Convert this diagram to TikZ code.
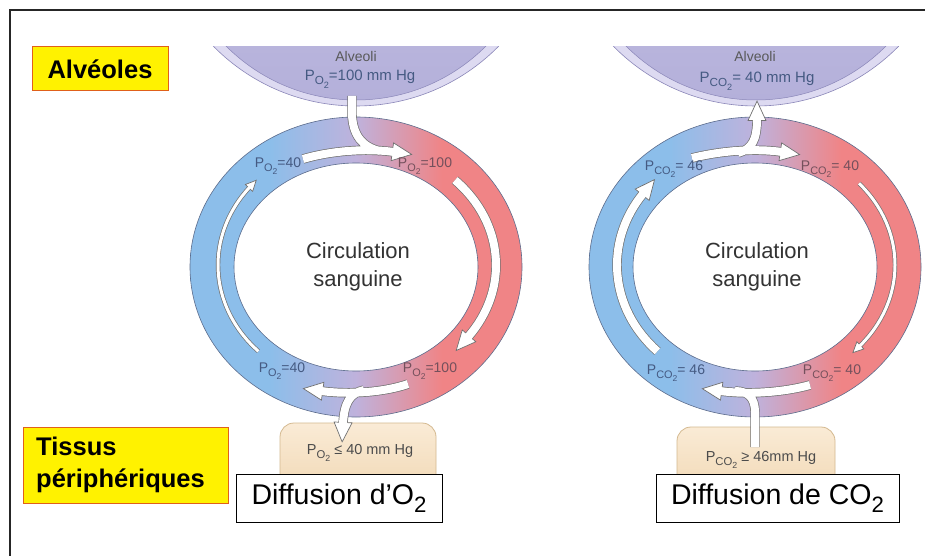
\documentclass[tikz,border=0pt]{standalone}
\usepackage{fontspec}
\usepackage{graphicx}
\setmainfont{Liberation Sans}
\usetikzlibrary{decorations.markings,calc}
\newcommand\mysub[1]{\raisebox{-0.3em}{\scalebox{0.78}{#1}}}
\definecolor{rblue}{HTML}{8CBEEA}
\definecolor{rmid}{HTML}{BFB2DC}
\definecolor{rred}{HTML}{F08486}
\definecolor{ringline}{HTML}{5C6C8C}
\definecolor{alvrim}{HTML}{DDDAF1}
\definecolor{alvtop}{HTML}{CFCBEA}
\definecolor{alvbot}{HTML}{B4B0DA}
\definecolor{alvline}{HTML}{8A86B8}
\definecolor{tisstop}{HTML}{FAEBD6}
\definecolor{tissbot}{HTML}{F1D8B4}
\definecolor{tissline}{HTML}{D4B990}
\definecolor{ybord}{HTML}{E0601A}
\definecolor{lblb}{HTML}{455A82}
\definecolor{lblr}{HTML}{74505C}
\definecolor{agray}{HTML}{707070}
\pgfdeclarehorizontalshading{ringshade}{100bp}{color(0bp)=(rblue); color(25bp)=(rblue); color(37bp)=(rblue); color(50bp)=(rmid); color(63bp)=(rred); color(75bp)=(rred); color(100bp)=(rred)}
\begin{document}
\begin{tikzpicture}[x=1pt,y=-1pt,
  ao/.style={draw=agray, line width=#1},
  ai/.style={draw=white, line width=#1},
  headat/.style n args={2}{postaction=decorate, decoration={markings, mark=at position 0.998 with {\filldraw[fill=white, draw=agray, line width=0.7pt, line join=miter] (-1.5pt,#1) -- (#2,0pt) -- (-1.5pt,-#1) -- cycle;}}},
  ybox/.style={draw=ybord, line width=1pt, fill=yellow, font=\fontsize{25.5}{30}\selectfont\bfseries},
  dbox/.style={draw=black, line width=1pt, fill=white, font=\fontsize{28.5}{32}\selectfont},
  lbl/.style={text=lblb, font=\fontsize{14}{16}\selectfont, inner sep=0},
  lblR/.style={lbl, text=lblr},
  ctr/.style={text=black!80, font=\fontsize{22}{28}\selectfont, align=center, inner sep=0},
  tiss/.style={draw=tissline, line width=0.8pt, top color=tisstop, bottom color=tissbot, rounded corners=14pt}
]
\useasboundingbox (0,0) rectangle (925,556);
\fill[white] (0,0) rectangle (925,556);
\draw[line width=1.4pt, black!85] (10,556) -- (10,10) -- (925,10);

% ---------- tissue boxes ----------
\path[tiss] (280,423) rectangle (436,495);
\path[tiss] (677,427) rectangle (835,495);

% ---------- alveoli ----------
\foreach \cx in {356,756}{
\begin{scope}
\clip (\cx-170,47) rectangle (\cx+170,125);
\filldraw[fill=alvrim, draw=alvline, line width=0.6pt] (\cx,-94) circle[radius=200];
\shade[top color=alvtop, bottom color=alvbot] (\cx,-83.5) circle[radius=183.5];
\draw[alvline, line width=0.5pt] (\cx,-83.5) circle[radius=183.5];
\end{scope}
}

% ---------- rings ----------
\foreach \cx in {356,755}{
\shade[even odd rule, shading=ringshade]
  (\cx,267) ellipse[x radius=166, y radius=150] (\cx,267) ellipse[x radius=122, y radius=104];
\draw[ringline, line width=0.6pt] (\cx,267) ellipse[x radius=166, y radius=150];
\draw[ringline, line width=0.6pt] (\cx,267) ellipse[x radius=122, y radius=104];
}

% ---------- arrows left diagram ----------
\coordinate (lc) at (356,265);
% top group
\draw[ao=9.4pt] (303,159) .. controls (330,151) and (365,148) .. (394,152)
                (352,96) -- (352,115) .. controls (353,135) and (362,147) .. (380,151);
\path[headat={9pt}{18pt}] (303,159) .. controls (330,151) and (365,148) .. (394,152);
\draw[ai=8pt] (303,159) .. controls (330,151) and (365,148) .. (394,152)
              (352,96) -- (352,115) .. controls (353,135) and (362,147) .. (380,151);
% right arc
\draw[ao=9.4pt] ($(lc)+(-45:140 and 120)$) arc[start angle=-45, end angle=37, x radius=140, y radius=120];
\path[headat={9pt}{18pt}] ($(lc)+(-45:140 and 120)$) arc[start angle=-45, end angle=37, x radius=140, y radius=120];
\draw[ai=8pt] ($(lc)+(-45:140 and 120)$) arc[start angle=-45, end angle=37, x radius=140, y radius=120];
% bottom group
\draw[ao=9.4pt] (408,384) .. controls (385,392) and (350,395) .. (321,391)
                (364,390) .. controls (350,393) and (344,403) .. (343,424);
\path[headat={9pt}{18pt}] (408,384) .. controls (385,392) and (350,395) .. (321,391);
\path[headat={9pt}{18pt}] (364,390) .. controls (350,393) and (344,403) .. (343,424);
\draw[ai=8pt] (408,384) .. controls (385,392) and (350,395) .. (321,391)
              (364,390) .. controls (350,393) and (344,403) .. (343,424);
% left thin arc
\draw[ao=4.4pt] ($(lc)+(135:138 and 122)$) arc[start angle=135, end angle=220, x radius=138, y radius=122];
\path[headat={5pt}{9pt}] ($(lc)+(135:138 and 122)$) arc[start angle=135, end angle=220, x radius=138, y radius=122];
\draw[ai=3pt] ($(lc)+(135:138 and 122)$) arc[start angle=135, end angle=220, x radius=138, y radius=122];

% ---------- arrows right diagram ----------
\coordinate (rc) at (755,265);
% top group
\draw[ao=9.4pt] (692,158) .. controls (720,151) and (755,148) .. (782,152)
                (738,153) .. controls (752,149) and (757,140) .. (757,119);
\path[headat={9pt}{18pt}] (692,158) .. controls (720,151) and (755,148) .. (782,152);
\path[headat={9pt}{18pt}] (738,153) .. controls (752,149) and (757,140) .. (757,119);
\draw[ai=8pt] (692,158) .. controls (720,151) and (755,148) .. (782,152)
              (738,153) .. controls (752,149) and (757,140) .. (757,119);
% right thin arc
\draw[ao=4.4pt] ($(rc)+(-42:140 and 122)$) arc[start angle=-42, end angle=42, x radius=140, y radius=122];
\path[headat={5pt}{9pt}] ($(rc)+(-42:140 and 122)$) arc[start angle=-42, end angle=42, x radius=140, y radius=122];
\draw[ai=3pt] ($(rc)+(-42:140 and 122)$) arc[start angle=-42, end angle=42, x radius=140, y radius=122];
% bottom group
\draw[ao=9.4pt] (810,385) .. controls (785,392) and (750,395) .. (720,391)
                (755,447) -- (755,412) .. controls (755,398) and (748,391) .. (735,391);
\path[headat={9pt}{18pt}] (810,385) .. controls (785,392) and (750,395) .. (720,391);
\draw[ai=8pt] (810,385) .. controls (785,392) and (750,395) .. (720,391)
              (755,447) -- (755,412) .. controls (755,398) and (748,391) .. (735,391);
% left thick arc
\draw[ao=9.4pt] ($(rc)+(135:138 and 122)$) arc[start angle=135, end angle=216, x radius=138, y radius=122];
\path[headat={9pt}{18pt}] ($(rc)+(135:138 and 122)$) arc[start angle=135, end angle=216, x radius=138, y radius=122];
\draw[ai=8pt] ($(rc)+(135:138 and 122)$) arc[start angle=135, end angle=216, x radius=138, y radius=122];

% ---------- texts ----------
\node[text=black!65, font=\fontsize{14}{16}\selectfont, inner sep=0] (alvL) at (356,56) {Alveoli};
\node[text=black!65, font=\fontsize{14}{16}\selectfont, inner sep=0] (alvR) at (755,56) {Alveoli};
\node[lbl, font=\fontsize{15}{17}\selectfont] (pL) at (360,79) {P\mysub{O\mysub{2}}=100 mm Hg};
\node[lbl, font=\fontsize{15}{17}\selectfont] (pR) at (757,81) {P\mysub{CO\mysub{2}}= 40 mm Hg};

\node[lbl] (l1) at (278,166) {P\mysub{O\mysub{2}}=40};
\node[lblR] (l2) at (425,166) {P\mysub{O\mysub{2}}=100};
\node[lbl] (l3) at (282,371) {P\mysub{O\mysub{2}}=40};
\node[lblR] (l4) at (430,371) {P\mysub{O\mysub{2}}=100};
\node[lbl] (r1) at (674,169) {P\mysub{CO\mysub{2}}= 46};
\node[lblR] (r2) at (830,169) {P\mysub{CO\mysub{2}}= 40};
\node[lbl] (r3) at (676,373) {P\mysub{CO\mysub{2}}= 46};
\node[lblR] (r4) at (832,373) {P\mysub{CO\mysub{2}}= 40};

\node[ctr] (cL) at (358,267) {Circulation\\sanguine};
\node[ctr] (cR) at (757,267) {Circulation\\sanguine};

\node[lbl, text=black!70, font=\fontsize{14.5}{16}\selectfont] (tL) at (360,453) {P\mysub{O\mysub{2}} ≤ 40 mm Hg};
\node[lbl, text=black!70, font=\fontsize{14.5}{16}\selectfont] (tR) at (761,460) {P\mysub{CO\mysub{2}} ≥ 46mm Hg};

% ---------- boxes ----------
\node[dbox, minimum width=206, minimum height=48, inner sep=0] (dL) at (339,498) {Diffusion d’O\mysub{2}};
\node[dbox, minimum width=243, minimum height=48, inner sep=0] (dR) at (777.5,498) {Diffusion de CO\mysub{2}};

\node[ybox, minimum width=136, minimum height=44, inner sep=0] (alv) at (100,69) {Alvéoles};
\node[ybox, minimum width=205, minimum height=76] (tis) at (125.5,465) {};
\node[anchor=west, align=left, inner sep=0, font=\fontsize{25.5}{32}\selectfont\bfseries] (tist) at (36,465) {Tissus\\périphériques};
\end{tikzpicture}
\end{document}
